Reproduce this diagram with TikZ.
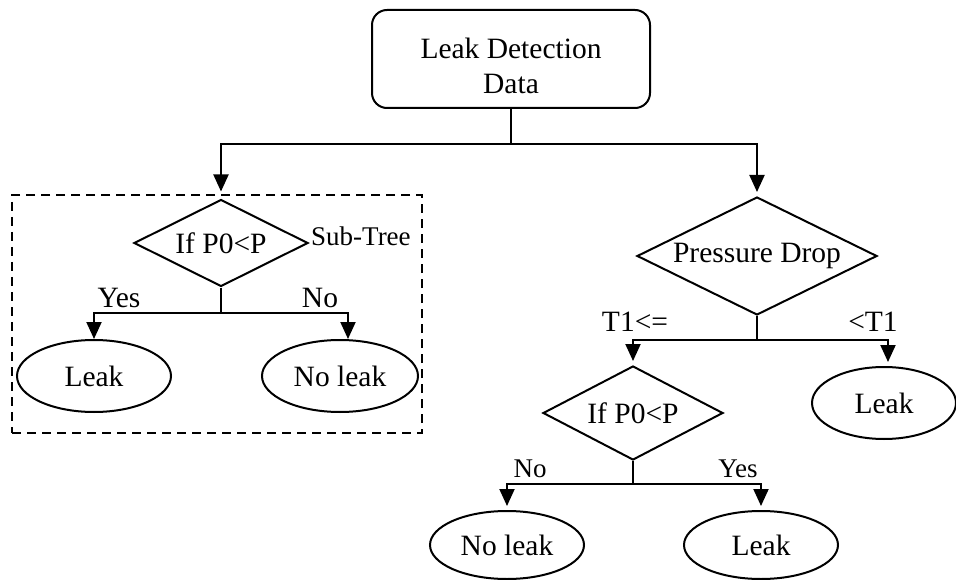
\documentclass[tikz,border=0pt]{standalone}
\usepackage{fontspec}
\setmainfont{Liberation Serif}
\usetikzlibrary{shapes.geometric,arrows.meta}
\begin{document}
\begin{tikzpicture}[x=1pt,y=-1pt,
  every node/.style={font=\fontsize{29.5}{35}\selectfont},
  line/.style={line width=2pt},
  arr/.style={line, -{Triangle[width=15pt,length=17pt]}},
  start/.style={draw, line width=2pt, rounded corners=15pt, minimum width=278pt,
    minimum height=98pt, inner sep=0pt},
  test/.style={draw, line width=2pt, diamond, inner sep=0pt, aspect=2},
  leaf/.style={draw, line width=2pt, ellipse, inner sep=0pt, minimum width=154pt,
    minimum height=72pt},
  small/.style={font=\fontsize{27}{32}\selectfont, inner sep=0pt},
  frame/.style={draw, line width=2pt, dash pattern=on 9pt off 6pt,
    minimum width=410pt, minimum height=238pt, inner sep=0pt}]

  % page area
  \useasboundingbox (0,0) rectangle (956,580);

  % root
  \node[start] (src) at (511,59) {};
  \node[align=center, inner sep=0pt] (srct) at (511,66) {Leak Detection\\Data};

  % sub-tree on the left
  \node[frame] (sub) at (217,314) {};
  \node[test, minimum width=174pt, minimum height=87pt] (q1) at (221,243) {If P0<P};
  \node[small, anchor=west] (subl) at (311,236) {Sub-Tree};
  \node[leaf] (l1) at (94,376) {Leak};
  \node[leaf, minimum width=156pt] (n1) at (340,376) {No leak};
  \node (y1) at (119,298) {Yes};
  \node (no1) at (320,298) {No};

  % pressure branch on the right
  \node[test, minimum width=240pt, minimum height=118pt] (pd) at (757,256) {Pressure Drop};
  \node (t1) at (635,322) {T1<=};
  \node (t2) at (873,322) {<T1};
  \node[leaf, minimum width=144pt] (l2) at (884,403) {Leak};
  \node[test, minimum width=180pt, minimum height=94pt] (q2) at (633,413) {If P0<P};
  \node[small] (no2) at (530,469) {No};
  \node[small] (y2) at (738,469) {Yes};
  \node[leaf, minimum height=68pt] (n2) at (507,545) {No leak};
  \node[leaf, minimum height=68pt] (l3) at (761,545) {Leak};

  % connectors
  \coordinate (j1) at (511,144);
  \draw[line] (src.south) -- (j1);
  \draw[arr, shorten >=7pt] (j1) -| (q1.north);
  \draw[arr, shorten >=4pt] (j1) -| (pd.north);

  \coordinate (j2) at (221,313);
  \draw[line] (q1.south) -- (j2);
  \draw[arr] (j2) -| (l1.north);
  \draw[arr] (j2) -| ([xshift=8pt]n1.north);

  \coordinate (j3) at (757,340);
  \draw[line] (pd.south) -- (j3);
  \draw[arr, shorten >=4pt] (j3) -| (q2.north);
  \draw[arr, shorten >=4pt] (j3) -| ([xshift=4pt]l2.north);

  \coordinate (j4) at (633,484);
  \draw[line] (q2.south) -- (j4);
  \draw[arr, shorten >=4pt] (j4) -| (n2.north);
  \draw[arr, shorten >=4pt] (j4) -| (l3.north);
\end{tikzpicture}
\end{document}
